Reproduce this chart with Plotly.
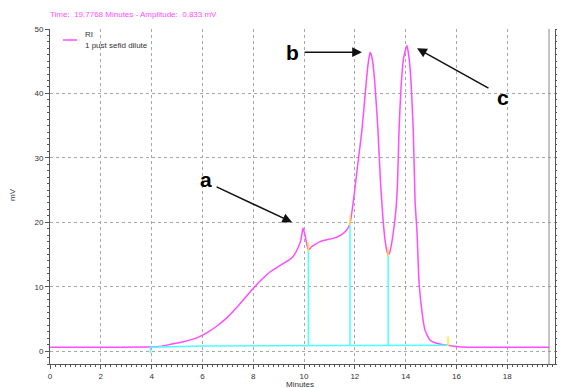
import plotly.graph_objects as go

# ---- data ----
time_min = [0, 4.3, 4.8, 5.3, 5.8, 6.2, 6.57, 6.97, 7.4, 7.9, 8.35, 8.7, 9.06, 9.35, 9.57, 9.76,
            9.88, 9.96, 10.05, 10.17, 10.3, 10.45, 10.63, 10.9, 11.15, 11.45, 11.68, 11.81, 11.95,
            12.1, 12.28, 12.42, 12.52, 12.6, 12.68, 12.78, 12.91, 13.0, 13.1, 13.19, 13.26,
            13.31, 13.38, 13.46, 13.55, 13.62, 13.68, 13.74, 13.82, 13.92, 14.05, 14.15, 14.3, 14.37,
            14.45, 14.53, 14.65, 14.76, 14.96, 15.15, 15.35, 15.67, 16.0, 16.5, 17.0, 19.65]
signal_mv = [0.6, 0.7, 1.1, 1.5, 2.1, 2.9, 3.9, 5.2, 7.0, 9.3, 11.2, 12.4, 13.3, 14.0, 14.7, 16.0,
             17.3, 19.1, 17.8, 15.7, 16.2, 16.6, 17.0, 17.3, 17.5, 18.0, 18.8, 19.8, 23.5,
             28.5, 34.3, 40.5, 44.5, 46.4, 45.5, 42.0, 34.3, 27.0, 21.0, 17.2, 15.6,
             14.9, 15.4, 17.0, 19.5, 22.0, 26.0, 34.3, 41.0, 45.5, 47.4, 45.0, 34.3, 23.4,
             18.3, 10.5, 5.9, 3.3, 1.7, 1.3, 1.1, 0.9, 0.7, 0.6, 0.6, 0.6]

baseline_x = [3.95, 3.95, 6.0, 15.67]
baseline_y = [-0.3, 0.6, 0.8, 0.9]

drop_x = [10.17, 11.81, 13.31]
drop_top = [15.7, 19.8, 14.9]
drop_base = [0.8, 0.85, 0.88]

mark_x = [10.17, 11.81, 13.31, 15.67]
mark_y = [16.2, 20.3, 15.4, 1.5]

labels = ["a", "b", "c"]
label_x = [6.14, 9.53, 17.83]
label_y = [26.6, 46.3, 39.3]
arrow_tip_x = [9.53, 12.28, 14.45]
arrow_tip_y = [20.0, 46.4, 47.0]
arrow_tail_x = [6.5, 9.96, 17.32]
arrow_tail_y = [25.6, 46.4, 40.7]

x_ticks = [0, 2, 4, 6, 8, 10, 12, 14, 16, 18]
y_ticks = [0, 10, 20, 30, 40, 50]

MAGENTA = "#ff4dff"
CYAN = "#4dffff"
FONT = "Liberation Sans, Arial, sans-serif"

fig = go.Figure()

fig.add_trace(go.Scatter(x=time_min, y=signal_mv, mode="lines", name="RI",
                         line=dict(color=MAGENTA, width=1.5, shape="spline", smoothing=0.5),
                         showlegend=False))

fig.add_trace(go.Scatter(x=baseline_x, y=baseline_y, mode="lines", line=dict(color=CYAN, width=1.5),
                         showlegend=False, hoverinfo="skip"))

dx, dy = [], []
for xv, top, base in zip(drop_x, drop_top, drop_base):
    dx += [xv, xv, None]
    dy += [base, top, None]
fig.add_trace(go.Scatter(x=dx, y=dy, mode="lines", line=dict(color=CYAN, width=1.5),
                         showlegend=False, hoverinfo="skip"))

fig.add_trace(go.Scatter(x=mark_x, y=mark_y, mode="markers", yaxis="y2",
                         marker=dict(symbol="line-ns", size=7, line=dict(color="#f5f020", width=1.5)),
                         showlegend=False, hoverinfo="skip"))

annotations = []
for t, lx, ly in zip(labels, label_x, label_y):
    annotations.append(dict(x=lx, y=ly, xref="x", yref="y", text="<b>" + t + "</b>", showarrow=False,
                            font=dict(family=FONT, size=21, color="black"),
                            xanchor="center", yanchor="middle"))
for tx, ty, ax, ay in zip(arrow_tip_x, arrow_tip_y, arrow_tail_x, arrow_tail_y):
    annotations.append(dict(x=tx, y=ty, xref="x", yref="y", ax=ax, ay=ay, axref="x", ayref="y",
                            text="", showarrow=True, arrowhead=2, arrowsize=1.3, arrowwidth=1.5,
                            arrowcolor="#111111"))

# header, legend text, axis titles
annotations += [
    dict(x=-0.004, y=1.042, xref="paper", yref="paper", xanchor="left", yanchor="middle",
         text="Time:  19.7768 Minutes - Amplitude:  0.833 mV", showarrow=False,
         font=dict(family=FONT, size=8, color=MAGENTA)),
    dict(x=33 / 505, y=1 - 5 / 335, xref="paper", yref="paper", xanchor="left", yanchor="middle",
         text="RI", showarrow=False, font=dict(family=FONT, size=8, color="#333333")),
    dict(x=33 / 505, y=1 - 16 / 335, xref="paper", yref="paper", xanchor="left", yanchor="middle",
         text="1 pust sefid dilute", showarrow=False, font=dict(family=FONT, size=8, color="#333333")),
    dict(x=250 / 505, y=-20 / 335, xref="paper", yref="paper", xanchor="center", yanchor="middle",
         text="Minutes", showarrow=False, font=dict(family=FONT, size=8, color="#333333")),
    dict(x=-38 / 505, y=(364 - 195) / 335, xref="paper", yref="paper", xanchor="center", yanchor="middle",
         text="mV", textangle=-90, showarrow=False, font=dict(family=FONT, size=8, color="#333333")),
]

shapes = [
    dict(type="line", xref="paper", yref="paper", x0=13 / 505, x1=27 / 505, y0=1 - 11 / 335, y1=1 - 11 / 335,
         line=dict(color=MAGENTA, width=1.5)),
    dict(type="line", xref="paper", yref="paper", x0=499 / 505, x1=499 / 505, y0=0, y1=1,
         line=dict(color="#888888", width=1)),
]

axis_common = dict(showline=True, linecolor="#555555", linewidth=1, ticks="outside", ticklen=4,
                   tickcolor="#555555", tickfont=dict(family=FONT, size=8, color="#333333"),
                   showgrid=True, gridcolor="#a8a8a8", griddash="dot", gridwidth=1, zeroline=False,
                   automargin=False)

# the page body adds an 8px offset, so the figure is sized to fill the rest of the window
fig.update_layout(
    width=558, height=380,
    margin=dict(l=42, r=11, t=21, b=24),
    paper_bgcolor="white", plot_bgcolor="white",
    showlegend=False,
    annotations=annotations, shapes=shapes,
    xaxis=dict(range=[0, 19.88], tickvals=x_ticks, ticktext=[str(v) for v in x_ticks],
               minor=dict(dtick=0.2, ticks="outside", ticklen=2, tickcolor="#555555", showgrid=False),
               **axis_common),
    yaxis=dict(range=[-2, 50], tickvals=y_ticks, ticktext=[str(v) for v in y_ticks],
               minor=dict(dtick=1, ticks="outside", ticklen=2, tickcolor="#555555", showgrid=False),
               **axis_common),
    yaxis2=dict(range=[-2, 50], overlaying="y", side="right", anchor="x",
                tickvals=y_ticks, ticktext=[str(v) for v in y_ticks],
                showline=True, linecolor="#555555", linewidth=1, ticks="outside", ticklen=1,
                tickcolor="#555555", tickfont=dict(family=FONT, size=7, color="#333333"),
                minor=dict(dtick=1, ticks="outside", ticklen=1, tickcolor="#555555", showgrid=False),
                showgrid=False, zeroline=False, automargin=False),
)

fig.write_html("out.html")
